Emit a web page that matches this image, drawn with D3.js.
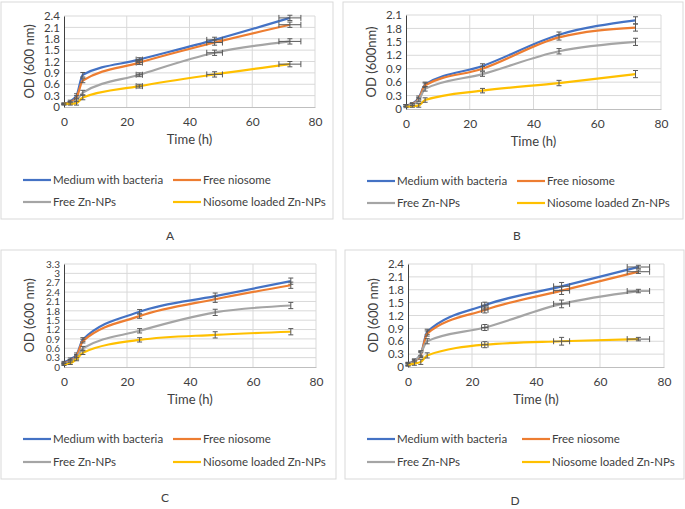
<!DOCTYPE html>
<html>
<head>
<meta charset="utf-8">
<script src="https://cdn.jsdelivr.net/npm/d3@7"></script>
<style>
  body { margin: 0; background: #fff; }
  svg text { font-family: Lato, "Liberation Sans", sans-serif; fill: #404040; }
</style>
</head>
<body>
<svg id="chart" width="685" height="509"></svg>
<script>
const times = [0, 2, 4, 6, 24, 48, 72];
const seriesNames = ["Medium with bacteria", "Free niosome", "Free Zn-NPs", "Niosome loaded Zn-NPs"];
const colors = ["#4472C4", "#ED7D31", "#A5A5A5", "#FFC000"];

// panel A
const aBacteria = [0.08, 0.15, 0.3, 0.85, 1.25, 1.77, 2.35];
const aNiosome = [0.08, 0.12, 0.25, 0.7, 1.17, 1.7, 2.17];
const aZn = [0.08, 0.1, 0.18, 0.38, 0.85, 1.43, 1.73];
const aLoaded = [0.08, 0.08, 0.1, 0.25, 0.55, 0.86, 1.13];
const aYErr = [0.02, 0.03, 0.05, 0.06, 0.05, 0.07, 0.07];
const aXErr = [0, 0, 0, 0, 1, 2.5, 3.5];
// panel B
const bBacteria = [0.08, 0.12, 0.25, 0.55, 0.96, 1.66, 1.98];
const bNiosome = [0.08, 0.11, 0.22, 0.53, 0.9, 1.6, 1.82];
const bZn = [0.08, 0.1, 0.2, 0.45, 0.78, 1.29, 1.5];
const bLoaded = [0.05, 0.06, 0.08, 0.2, 0.41, 0.58, 0.78];
const bYErr = [0.02, 0.02, 0.04, 0.05, 0.05, 0.06, 0.08];
const bXErr = [0, 0, 0, 0, 0, 0, 0];
// panel C
const cBacteria = [0.15, 0.25, 0.4, 0.88, 1.77, 2.27, 2.75];
const cNiosome = [0.12, 0.2, 0.35, 0.83, 1.63, 2.17, 2.62];
const cZn = [0.1, 0.18, 0.3, 0.6, 1.16, 1.75, 1.97];
const cLoaded = [0.08, 0.12, 0.25, 0.46, 0.87, 1.03, 1.13];
const cYErr = [0.03, 0.04, 0.05, 0.06, 0.07, 0.1, 0.1];
const cXErr = [0, 0, 0, 0, 0, 0, 0];
// panel D
const dBacteria = [0.08, 0.15, 0.3, 0.82, 1.44, 1.88, 2.33];
const dNiosome = [0.07, 0.13, 0.28, 0.78, 1.33, 1.78, 2.22];
const dZn = [0.06, 0.12, 0.32, 0.6, 0.92, 1.47, 1.77];
const dLoaded = [0.05, 0.08, 0.12, 0.27, 0.52, 0.6, 0.65];
const dYErr = [0.03, 0.04, 0.06, 0.06, 0.07, 0.09, 0.04];
const dXErr = [0, 0, 0, 0, 1, 2.5, 3.5];

const yTicksA = [0, 0.3, 0.6, 0.9, 1.2, 1.5, 1.8, 2.1, 2.4];
const yTicksB = [0, 0.3, 0.6, 0.9, 1.2, 1.5, 1.8, 2.1];
const yTicksC = [0, 0.3, 0.6, 0.9, 1.2, 1.5, 1.8, 2.1, 2.4, 2.7, 3, 3.3];
const xTicks = [0, 20, 40, 60, 80];

const svg = d3.select("#chart");

function drawPanel(p) {
  const g = svg.append("g");
  g.append("rect").attr("x", p.box[0]).attr("y", p.box[1])
    .attr("width", p.box[2]).attr("height", p.box[3])
    .attr("fill", "none").attr("stroke", "#d9d9d9");

  const x = d3.scaleLinear().domain([0, 80]).range([p.x0, p.x1]);
  const y = d3.scaleLinear().domain([0, p.yMax]).range([p.y0, p.y1]);

  // grid
  g.selectAll(".hg").data(p.yTicks.slice(1)).enter().append("line")
    .attr("x1", p.x0).attr("x2", p.x1)
    .attr("y1", d => y(d)).attr("y2", d => y(d))
    .attr("stroke", "#d9d9d9");
  g.selectAll(".vg").data(xTicks.slice(1)).enter().append("line")
    .attr("x1", d => x(d)).attr("x2", d => x(d))
    .attr("y1", p.y0).attr("y2", p.y1)
    .attr("stroke", "#d9d9d9");

  const xAxis = g.append("g").attr("transform", "translate(0," + p.y0 + ")")
    .call(d3.axisBottom(x).tickValues(xTicks).tickSize(0).tickPadding(10));
  xAxis.select(".domain").attr("stroke", "#bfbfbf");
  xAxis.selectAll(".tick text").attr("font-size", 12);
  const yAxis = g.append("g").attr("transform", "translate(" + p.x0 + ",0)")
    .call(d3.axisLeft(y).tickValues(p.yTicks).tickSize(0).tickPadding(4).tickFormat(d3.format("")));
  yAxis.select(".domain").attr("stroke", "#404040");
  yAxis.selectAll(".tick text").attr("font-size", p.yFont);
  g.selectAll(".tick text").attr("fill", "#404040");

  const line = d3.line().x(d => x(d.t)).y(d => y(d.v)).curve(d3.curveMonotoneX);
  p.series.forEach((vals, i) => {
    const pts = times.map((t, k) => ({ t: t, v: vals[k], ey: p.yErr[k], ex: p.xErr[k] }));
    g.append("path").datum(pts).attr("d", line)
      .attr("fill", "none").attr("stroke", colors[i]).attr("stroke-width", 2.2);
    const eb = g.append("g").attr("stroke", "#595959").attr("stroke-width", 1);
    pts.forEach(d => {
      eb.append("line").attr("x1", x(d.t)).attr("x2", x(d.t))
        .attr("y1", y(d.v - d.ey)).attr("y2", y(d.v + d.ey));
      [d.v - d.ey, d.v + d.ey].forEach(v => {
        eb.append("line").attr("x1", x(d.t) - 2.5).attr("x2", x(d.t) + 2.5)
          .attr("y1", y(v)).attr("y2", y(v));
      });
      if (d.ex > 0) {
        eb.append("line").attr("x1", x(d.t - d.ex)).attr("x2", x(d.t + d.ex))
          .attr("y1", y(d.v)).attr("y2", y(d.v));
        [d.t - d.ex, d.t + d.ex].forEach(t => {
          eb.append("line").attr("x1", x(t)).attr("x2", x(t))
            .attr("y1", y(d.v) - 3).attr("y2", y(d.v) + 3);
        });
      }
    });
  });

  g.append("text").attr("x", (p.x0 + p.x1) / 2).attr("y", p.y0 + 37)
    .attr("text-anchor", "middle").attr("font-size", 13).text("Time (h)");
  g.append("text").attr("transform", "translate(" + (p.x0 - 30) + "," + ((p.y0 + p.y1) / 2) + ") rotate(-90)")
    .attr("text-anchor", "middle").attr("font-size", 13).text(p.yTitle);

  // legend
  seriesNames.forEach((name, i) => {
    const lx = p.legX[i % 2], ly = p.legY[Math.floor(i / 2)];
    g.append("line").attr("x1", lx).attr("x2", lx + 28).attr("y1", ly).attr("y2", ly)
      .attr("stroke", colors[i]).attr("stroke-width", 2.2);
    g.append("text").attr("x", lx + 30).attr("y", ly + 4).attr("font-size", 11.5).text(name);
  });

  svg.append("text").attr("x", p.label[0]).attr("y", p.label[1])
    .attr("text-anchor", "middle").attr("font-size", 12).text(p.name);
}

drawPanel({ name: "A", box: [1, 2, 332, 217], x0: 64, x1: 315, y0: 107, y1: 16, yMax: 2.4,
  yTicks: yTicksA, yFont: 11.5, yTitle: "OD (600 nm)", series: [aBacteria, aNiosome, aZn, aLoaded],
  yErr: aYErr, xErr: aXErr, legX: [23, 173], legY: [180, 202], label: [170, 240] });
drawPanel({ name: "B", box: [343, 2, 340, 217], x0: 406, x1: 661, y0: 109, y1: 15, yMax: 2.1,
  yTicks: yTicksB, yFont: 11.5, yTitle: "OD (600nm)", series: [bBacteria, bNiosome, bZn, bLoaded],
  yErr: bYErr, xErr: bXErr, legX: [367, 517], legY: [181, 203], label: [517, 240] });
drawPanel({ name: "C", box: [1, 250, 335, 229], x0: 64, x1: 316, y0: 367, y1: 264, yMax: 3.3,
  yTicks: yTicksC, yFont: 10, yTitle: "OD (600 nm)", series: [cBacteria, cNiosome, cZn, cLoaded],
  yErr: cYErr, xErr: cXErr, legX: [23, 173], legY: [439, 462], label: [165, 502] });
drawPanel({ name: "D", box: [345, 250, 339, 229], x0: 408, x1: 664, y0: 367, y1: 264, yMax: 2.4,
  yTicks: yTicksA, yFont: 11.5, yTitle: "OD (600 nm)", series: [dBacteria, dNiosome, dZn, dLoaded],
  yErr: dYErr, xErr: dXErr, legX: [367, 522], legY: [439, 462], label: [515, 505] });
</script>
</body>
</html>
